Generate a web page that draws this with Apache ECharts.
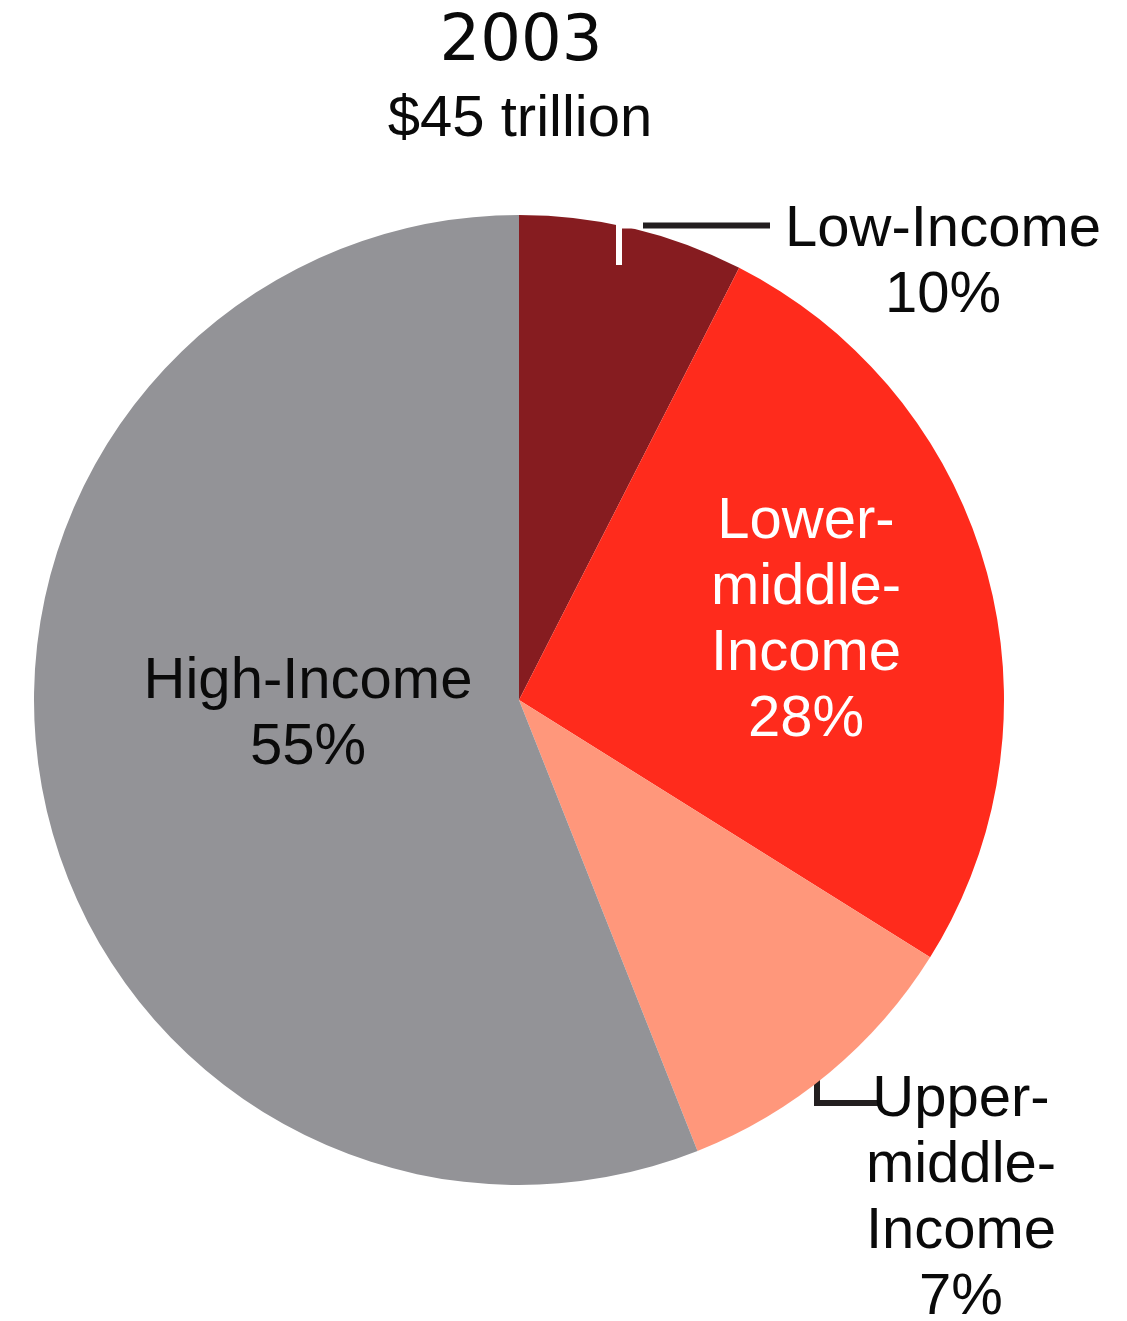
<!DOCTYPE html>
<html>
<head>
<meta charset="utf-8">
<script src="https://cdn.jsdelivr.net/npm/echarts@6/dist/echarts.min.js"></script>
<style>
  html, body { margin: 0; padding: 0; background: #ffffff; }
  #chart { width: 1127px; height: 1321px; }
</style>
</head>
<body>
<div id="chart"></div>
<script>
// ---- data ----
const categories  = ['Low-Income', 'Lower-middle-Income', 'Upper-middle-Income', 'High-Income'];
const sliceShares = [7.5, 26.4, 10.1, 56.0];          // slice sizes as drawn (angle share, %)
const shareLabels = ['10%', '28%', '7%', '55%'];      // percentages printed on the chart
const titleYear   = '2003';
const titleTotal  = '$45 trillion';

// ---- layout / style ----
const FONT = '"Liberation Sans", Arial, Helvetica, sans-serif';
const INK = '#0a0a0a';
const LINE = '#231f20';
const CX = 519, CY = 700, R = 485;
const LH = 66;
const sliceColors = ['#861c20', '#ff2b1c', '#ff977b', '#939397'];
const labelColors = [INK, '#ffffff', INK, INK];
const outsideLabel = [true, false, true, false];
const labelPlacement = [
  { x: 943, y: 263 },
  { x: 806, y: 621 },
  { x: 961, y: 1199 },
  { x: 308, y: 715 }
];
const leaderPoints = {
  0: [[643, 225.5], [706, 225.5], [770, 225.5]],
  2: [[817, 1055], [817, 1103], [878, 1103]]
};

function wrapName(name, i) {
  return (i === 1 || i === 2) ? name.replace(/-/g, '-\n') : name;
}

const chart = echarts.init(document.getElementById('chart'), null, { renderer: 'canvas' });

const option = {
  backgroundColor: '#ffffff',
  animation: false,
  color: sliceColors,
  title: [
    {
      text: titleYear,
      left: 521, top: 8,
      textAlign: 'center',
      padding: 0,
      textStyle: { fontFamily: '"DejaVu Sans", sans-serif', fontSize: 64, fontWeight: 'normal', color: INK, lineHeight: 70 }
    },
    {
      text: titleTotal,
      left: 520, top: 87,
      textAlign: 'center',
      padding: 0,
      textStyle: { fontFamily: FONT, fontSize: 58, fontWeight: 'normal', color: INK, lineHeight: 66 }
    }
  ],
  series: [{
    type: 'pie',
    center: [CX, CY],
    radius: [0, R],
    startAngle: 90,
    clockwise: true,
    avoidLabelOverlap: false,
    silent: true,
    itemStyle: { borderWidth: 0 },
    label: {
      fontFamily: FONT,
      fontSize: 58,
      lineHeight: LH,
      align: 'center',
      formatter: p => wrapName(p.name, p.dataIndex) + '\n' + shareLabels[p.dataIndex]
    },
    labelLayout: function (params) {
      const i = params.dataIndex;
      const p = labelPlacement[i];
      const out = { x: p.x, y: p.y, align: 'center', verticalAlign: 'middle' };
      if (leaderPoints[i]) out.labelLinePoints = leaderPoints[i];
      return out;
    },
    data: categories.map((name, i) => ({
      name: name,
      value: sliceShares[i],
      label: {
        show: true,
        position: outsideLabel[i] ? 'outside' : 'inside',
        color: labelColors[i]
      },
      labelLine: {
        show: outsideLabel[i],
        smooth: false,
        lineStyle: { color: LINE, width: 6, cap: 'butt', join: 'miter' }
      }
    }))
  }],
  graphic: [{
    type: 'polyline',
    z: 100,
    silent: true,
    shape: { points: [[619, 265], [619, 225.5], [643, 225.5]] },
    style: { stroke: '#ffffff', lineWidth: 6, fill: null, lineJoin: 'miter' }
  }]
};

chart.setOption(option);
</script>
</body>
</html>
